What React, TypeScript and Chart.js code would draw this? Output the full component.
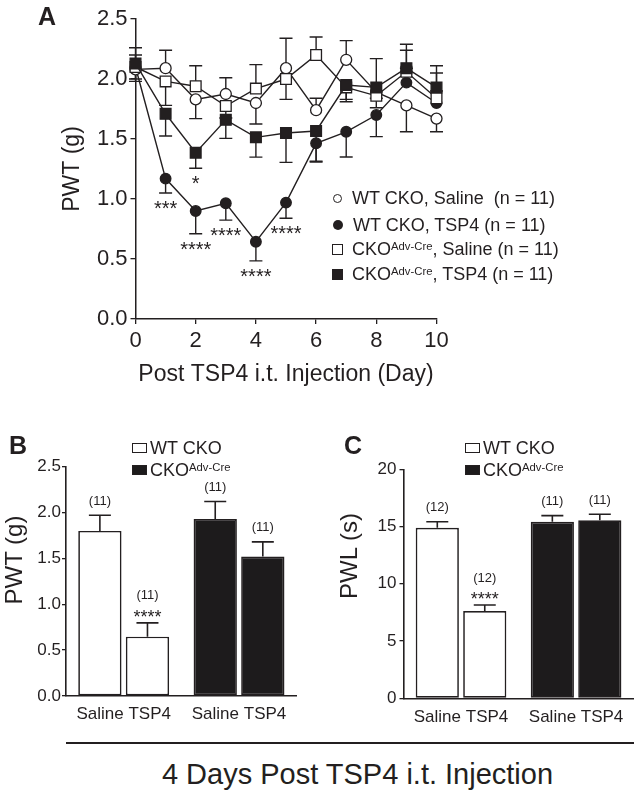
import React, { useEffect, useRef } from "react";
import { Chart, registerables } from "chart.js";

Chart.register(...registerables);

const FONT = "'Liberation Sans', Arial, Helvetica, sans-serif";
const INK = "#231f20";
const BAR_DARK = "#1d1b1c";

// ---------------- Panel A: time course ----------------
const days = [0, 1, 2, 3, 4, 5, 6, 7, 8, 9, 10];

const wtSalineMean = [2.08, 2.09, 1.83, 1.875, 1.8, 2.09, 1.74, 2.16, 1.89, 1.78, 1.67];
const wtSalineSem = [0.08, 0.15, 0.16, 0.135, 0.175, 0.25, 0.1, 0.16, 0.05, 0.22, 0.11];
const wtSalineDir = [-1, 1, -1, 1, -1, 1, 1, 1, -1, -1, -1];

const wtTsp4Mean = [2.1, 1.17, 0.9, 0.964, 0.644, 0.97, 1.464, 1.56, 1.7, 1.97, 1.8];
const wtTsp4Sem = [0.12, 0.12, 0.19, 0.14, 0.16, 0.13, 0.15, 0.21, 0.18, 0.12, 0.1];
const wtTsp4Dir = [-1, -1, -1, -1, -1, -1, -1, -1, -1, 1, 1];
const wtTsp4Stars = ["", "***", "****", "****", "****", "****", "", "", "", "", ""];

const ckoSalineMean = [2.1, 1.98, 1.94, 1.775, 1.92, 2.0, 2.2, 1.93, 1.86, 2.06, 1.84];
const ckoSalineSem = [0.1, 0.2, 0.17, 0.1, 0.2, 0.17, 0.15, 0.1, 0.1, 0.18, 0.21];
const ckoSalineDir = [1, -1, 1, -1, 1, -1, 1, -1, -1, 1, 1];

const ckoTsp4Mean = [2.13, 1.71, 1.386, 1.66, 1.514, 1.55, 1.567, 1.95, 1.93, 2.09, 1.93];
const ckoTsp4Sem = [0.13, 0.185, 0.13, 0.155, 0.165, 0.245, 0.26, 0.14, 0.24, 0.2, 0.18];
const ckoTsp4Dir = [1, -1, -1, -1, -1, -1, -1, -1, 1, 1, 1];
const ckoTsp4Stars = ["", "", "*", "", "", "", "", "", "", "", ""];

const xTitleA = "Post TSP4 i.t. Injection (Day)";
const yTitleA = "PWT (g)";

// legend of panel A: main text, superscript, rest
const legendMainA = ["WT CKO", "WT CKO", "CKO", "CKO"];
const legendSupA = ["", "", "Adv-Cre", "Adv-Cre"];
const legendRestA = [", Saline  (n = 11)", ", TSP4 (n = 11)", ", Saline (n = 11)", ", TSP4 (n = 11)"];

// ---------------- Panels B and C: day 4 ----------------
const groups = ["WT CKO", "CKO Adv-Cre"];
const treatments = ["Saline", "TSP4"];
const groupColors = ["#ffffff", BAR_DARK];

const pwtSaline = [1.8, 1.93];
const pwtSalineSem = [0.17, 0.19];
const pwtTsp4 = [0.647, 1.52];
const pwtTsp4Sem = [0.15, 0.16];
const pwtSalineN = ["(11)", "(11)"];
const pwtTsp4N = ["(11)", "(11)"];
const pwtSalineStars = ["", ""];
const pwtTsp4Stars = ["****", ""];

const pwlSaline = [14.9, 15.42];
const pwlSalineSem = [0.52, 0.53];
const pwlTsp4 = [7.62, 15.55];
const pwlTsp4Sem = [0.53, 0.52];
const pwlSalineN = ["(12)", "(11)"];
const pwlTsp4N = ["(12)", "(11)"];
const pwlSalineStars = ["", ""];
const pwlTsp4Stars = ["****", ""];

const legendMainBC = ["WT CKO", "CKO"];
const legendSupBC = ["", "Adv-Cre"];
const caption = "4 Days Post TSP4 i.t. Injection";

// ---------------- plugins ----------------
const lineErrorPlugin = {
  id: "lineErr",
  beforeDatasetsDraw(chart: any) {
    const { ctx } = chart;
    const y = chart.scales.y;
    ctx.save();
    ctx.strokeStyle = INK;
    ctx.lineWidth = 1.4;
    chart.data.datasets.forEach((ds: any, di: number) => {
      const meta = chart.getDatasetMeta(di);
      meta.data.forEach((pt: any, i: number) => {
        const v = ds.data[i].y;
        const y0 = y.getPixelForValue(v);
        const y1 = y.getPixelForValue(v + ds.sem[i] * ds.dir[i]);
        ctx.beginPath();
        ctx.moveTo(pt.x, y0);
        ctx.lineTo(pt.x, y1);
        ctx.moveTo(pt.x - 6.5, y1);
        ctx.lineTo(pt.x + 6.5, y1);
        ctx.stroke();
      });
    });
    ctx.restore();
  },
  afterDatasetsDraw(chart: any) {
    const { ctx } = chart;
    const y = chart.scales.y;
    ctx.save();
    ctx.fillStyle = INK;
    ctx.font = `20px ${FONT}`;
    ctx.textAlign = "center";
    ctx.textBaseline = "alphabetic";
    chart.data.datasets.forEach((ds: any, di: number) => {
      if (!ds.stars) return;
      const meta = chart.getDatasetMeta(di);
      meta.data.forEach((pt: any, i: number) => {
        const s = ds.stars[i];
        if (!s) return;
        const v = ds.data[i].y;
        const yEnd = y.getPixelForValue(v - ds.sem[i]);
        const center = yEnd + 10.5;
        ctx.fillText(s, pt.x, center + 0.575 * 20);
      });
    });
    ctx.restore();
  },
};

const barErrorPlugin = {
  id: "barErr",
  afterDatasetsDraw(chart: any) {
    const { ctx } = chart;
    const y = chart.scales.y;
    ctx.save();
    chart.data.datasets.forEach((ds: any, di: number) => {
      const meta = chart.getDatasetMeta(di);
      meta.data.forEach((bar: any, i: number) => {
        const v = ds.data[i];
        const top = y.getPixelForValue(v);
        const cap = y.getPixelForValue(v + ds.sem[i]);
        ctx.strokeStyle = INK;
        ctx.lineWidth = 1.6;
        ctx.beginPath();
        ctx.moveTo(bar.x, top);
        ctx.lineTo(bar.x, cap);
        ctx.moveTo(bar.x - 11, cap);
        ctx.lineTo(bar.x + 11, cap);
        ctx.stroke();
        ctx.fillStyle = INK;
        ctx.textAlign = "center";
        const star = ds.stars[i];
        let labelCenter = cap - 14;
        if (star) {
          ctx.font = `18px ${FONT}`;
          ctx.textBaseline = "alphabetic";
          ctx.fillText(star, bar.x, cap - 10 + 0.575 * 18);
          labelCenter = cap - 27;
        }
        ctx.font = `13px ${FONT}`;
        ctx.textBaseline = "middle";
        ctx.fillText(ds.nLabels[i], bar.x, labelCenter);
      });
    });
    ctx.restore();
  },
};

function lineDataset(label: string, mean: number[], sem: number[], dir: number[], style: string, filled: boolean, radius: number, stars?: string[]) {
  return {
    label,
    data: days.map((d, i) => ({ x: d, y: mean[i] })),
    sem,
    dir,
    stars,
    borderColor: INK,
    borderWidth: 1.4,
    pointStyle: style,
    pointRadius: radius,
    pointBackgroundColor: filled ? INK : "#ffffff",
    pointBorderColor: INK,
    pointBorderWidth: 1.3,
    tension: 0,
    clip: false,
  };
}

function makeConfigA(): any {
  return {
    type: "line",
    data: {
      datasets: [
        lineDataset(legendMainA[3] + legendRestA[3], ckoTsp4Mean, ckoTsp4Sem, ckoTsp4Dir, "rect", true, 7.6, ckoTsp4Stars),
        lineDataset(legendMainA[2] + legendRestA[2], ckoSalineMean, ckoSalineSem, ckoSalineDir, "rect", false, 7.6),
        lineDataset(legendMainA[0] + legendRestA[0], wtSalineMean, wtSalineSem, wtSalineDir, "circle", false, 5.5),
        lineDataset(legendMainA[1] + legendRestA[1], wtTsp4Mean, wtTsp4Sem, wtTsp4Dir, "circle", true, 5.3, wtTsp4Stars),
      ],
    },
    options: {
      responsive: false,
      animation: false,
      devicePixelRatio: 1,
      layout: { padding: { top: 19, right: 634 - 436.5, left: 0, bottom: 0 } },
      plugins: { legend: { display: false }, tooltip: { enabled: false } },
      scales: {
        x: {
          type: "linear",
          min: 0,
          max: 10,
          ticks: { stepSize: 2, color: INK, font: { family: FONT, size: 22 }, padding: 3.5, maxRotation: 0 },
          grid: { drawOnChartArea: false, drawTicks: true, tickLength: 5, color: INK, lineWidth: 1.3 },
          border: { display: true, color: INK, width: 1.5 },
          title: { display: true, text: xTitleA, color: INK, font: { family: FONT, size: 23 }, padding: { top: 0, bottom: 12 } },
          afterFit: (s: any) => {
            s.height = 400 - 319;
          },
        },
        y: {
          min: 0,
          max: 2.5,
          ticks: {
            stepSize: 0.5,
            color: INK,
            font: { family: FONT, size: 22 },
            padding: 3,
            callback: (v: any) => Number(v).toFixed(1),
          },
          grid: { drawOnChartArea: false, drawTicks: true, tickLength: 5, color: INK, lineWidth: 1.3 },
          border: { display: true, color: INK, width: 1.5 },
          title: { display: true, text: yTitleA, color: INK, font: { family: FONT, size: 23 }, padding: { top: 58.7, bottom: 0 } },
          afterFit: (s: any) => {
            s.width = 135.5;
          },
        },
      },
    },
    plugins: [lineErrorPlugin],
  };
}

function makeBarConfig(p: {
  saline: number[]; salineSem: number[]; tsp4: number[]; tsp4Sem: number[];
  salineN: string[]; tsp4N: string[]; salineStars: string[]; tsp4Stars: string[];
  yMax: number; yStep: number; decimals: number;
  left: number; right: number; top: number; bottom: number; w: number; h: number; tickPad: number;
}): any {
  const common = {
    backgroundColor: groupColors,
    borderColor: INK,
    borderWidth: 1.7,
    borderSkipped: false,
    categoryPercentage: 0.825,
    barPercentage: 0.91,
  };
  return {
    type: "bar",
    data: {
      labels: groups,
      datasets: [
        { ...common, label: treatments[0], data: p.saline, sem: p.salineSem, nLabels: p.salineN, stars: p.salineStars },
        { ...common, label: treatments[1], data: p.tsp4, sem: p.tsp4Sem, nLabels: p.tsp4N, stars: p.tsp4Stars },
      ],
    },
    options: {
      responsive: false,
      animation: false,
      devicePixelRatio: 1,
      layout: { padding: { top: p.top, right: p.w - p.right, left: 0, bottom: 0 } },
      plugins: { legend: { display: false }, tooltip: { enabled: false } },
      scales: {
        x: {
          type: "category",
          offset: true,
          ticks: {
            color: INK,
            font: { family: FONT, size: 17 },
            padding: 8.6,
            maxRotation: 0,
            autoSkip: false,
            callback: () => treatments.join(" "),
          },
          grid: { display: false, drawTicks: false },
          border: { display: true, color: INK, width: 1.6 },
          afterFit: (s: any) => {
            s.height = p.h - p.bottom;
          },
        },
        y: {
          min: 0,
          max: p.yMax,
          ticks: {
            stepSize: p.yStep,
            color: INK,
            font: { family: FONT, size: 17 },
            padding: p.tickPad,
            callback: (v: any) => Number(v).toFixed(p.decimals),
          },
          grid: { drawOnChartArea: false, drawTicks: true, tickLength: 4, color: INK, lineWidth: 1.3 },
          border: { display: true, color: INK, width: 1.6 },
          afterFit: (s: any) => {
            s.width = p.left;
          },
        },
      },
    },
    plugins: [barErrorPlugin],
  };
}

const abs = (o: any) => ({ position: "absolute" as const, ...o });

function Sup({ text }: { text: string }) {
  if (!text) return null;
  return <span style={{ fontSize: 11.3, position: "relative", top: -5.5 }}>{text}</span>;
}

function LegendMarkerA({ i }: { i: number }) {
  const styles: any[] = [
    { width: 7, height: 7, borderRadius: "50%", border: `1.3px solid ${INK}`, background: "#fff" },
    { width: 10, height: 10, borderRadius: "50%", background: INK },
    { width: 9, height: 9, border: `1.3px solid ${INK}`, background: "#fff" },
    { width: 11, height: 11, background: INK },
  ];
  return <div style={{ ...styles[i], boxSizing: "content-box" }} />;
}

export default function App() {
  const aRef = useRef<HTMLCanvasElement>(null);
  const bRef = useRef<HTMLCanvasElement>(null);
  const cRef = useRef<HTMLCanvasElement>(null);

  useEffect(() => {
    const charts = [
      new Chart(aRef.current as HTMLCanvasElement, makeConfigA()),
      new Chart(
        bRef.current as HTMLCanvasElement,
        makeBarConfig({
          saline: pwtSaline, salineSem: pwtSalineSem, tsp4: pwtTsp4, tsp4Sem: pwtTsp4Sem,
          salineN: pwtSalineN, tsp4N: pwtTsp4N, salineStars: pwtSalineStars, tsp4Stars: pwtTsp4Stars,
          yMax: 2.5, yStep: 0.5, decimals: 1,
          left: 66, right: 296.7, top: 46.7, bottom: 276, w: 317, h: 320, tickPad: 1,
        })
      ),
      new Chart(
        cRef.current as HTMLCanvasElement,
        makeBarConfig({
          saline: pwlSaline, salineSem: pwlSalineSem, tsp4: pwlTsp4, tsp4Sem: pwlTsp4Sem,
          salineN: pwlSalineN, tsp4N: pwlTsp4N, salineStars: pwlSalineStars, tsp4Stars: pwlTsp4Stars,
          yMax: 20, yStep: 5, decimals: 0,
          left: 86.5, right: 316.6, top: 49.3, bottom: 278.3, w: 317, h: 320, tickPad: 3,
        })
      ),
    ];
    return () => charts.forEach((c) => c.destroy());
  }, []);

  const legendRowsA = [198, 225, 249, 274];
  const markerXA = [337, 338, 337, 337];
  const textXA = [352, 353, 352, 352];

  const rotTitle = (text: string, cx: number, cy: number, size: number) => (
    <div
      style={abs({
        left: cx - 100,
        top: cy - size / 2,
        width: 200,
        height: size,
        lineHeight: `${size}px`,
        fontSize: size,
        textAlign: "center",
        transform: "rotate(-90deg)",
        whiteSpace: "nowrap",
      })}
    >
      {text}
    </div>
  );

  const legendBC = (boxX: number, textX: number) =>
    [448, 470].map((cy, i) => (
      <React.Fragment key={i}>
        <div
          style={abs({
            left: boxX,
            top: cy - 5,
            width: 15,
            height: 10,
            boxSizing: "border-box",
            border: `1.5px solid ${INK}`,
            background: groupColors[i] === "#ffffff" ? "#fff" : BAR_DARK,
          })}
        />
        <div style={abs({ left: textX, top: cy - 8.8, fontSize: 18, lineHeight: "18px", whiteSpace: "pre" })}>
          {legendMainBC[i]}
          <Sup text={legendSupBC[i]} />
        </div>
      </React.Fragment>
    ));

  return (
    <div
      style={{
        position: "absolute",
        left: 0,
        top: 0,
        width: 634,
        height: 794,
        background: "#ffffff",
        fontFamily: FONT,
        color: INK,
        overflow: "hidden",
      }}
    >
      <canvas ref={aRef} width={634} height={400} style={abs({ left: 0, top: 0 })} />
      <canvas ref={bRef} width={317} height={320} style={abs({ left: 0, top: 420 })} />
      <canvas ref={cRef} width={317} height={320} style={abs({ left: 317, top: 420 })} />

      {/* panel letters */}
      <div style={abs({ left: 38, top: 4, fontSize: 25, lineHeight: "25px", fontWeight: "bold" })}>A</div>
      <div style={abs({ left: 9, top: 433, fontSize: 25, lineHeight: "25px", fontWeight: "bold" })}>B</div>
      <div style={abs({ left: 344, top: 433, fontSize: 25, lineHeight: "25px", fontWeight: "bold" })}>C</div>

      {/* legend A */}
      {legendRowsA.map((cy, i) => (
        <React.Fragment key={i}>
          <div style={abs({ left: markerXA[i] - 6, top: cy - 6, width: 12, height: 12, display: "flex", alignItems: "center", justifyContent: "center" })}>
            <LegendMarkerA i={i} />
          </div>
          <div style={abs({ left: textXA[i], top: cy - 8.8, fontSize: 18, lineHeight: "18px", whiteSpace: "pre" })}>
            {legendMainA[i]}
            <Sup text={legendSupA[i]} />
            {legendRestA[i]}
          </div>
        </React.Fragment>
      ))}

      {/* legends B and C */}
      {legendBC(132, 150)}
      {legendBC(465, 483)}

      {/* y titles of B and C */}
      {rotTitle("PWT (g)", 13.5, 560, 24)}
      {rotTitle("PWL (s)", 348.5, 556, 24)}

      {/* bottom bracket and caption */}
      <div style={abs({ left: 66, top: 742, width: 568, height: 2, background: INK })} />
      <div style={abs({ left: 0, top: 759.6, width: 715, fontSize: 29, lineHeight: "29px", textAlign: "center", whiteSpace: "nowrap" })}>
        {caption}
      </div>
    </div>
  );
}
